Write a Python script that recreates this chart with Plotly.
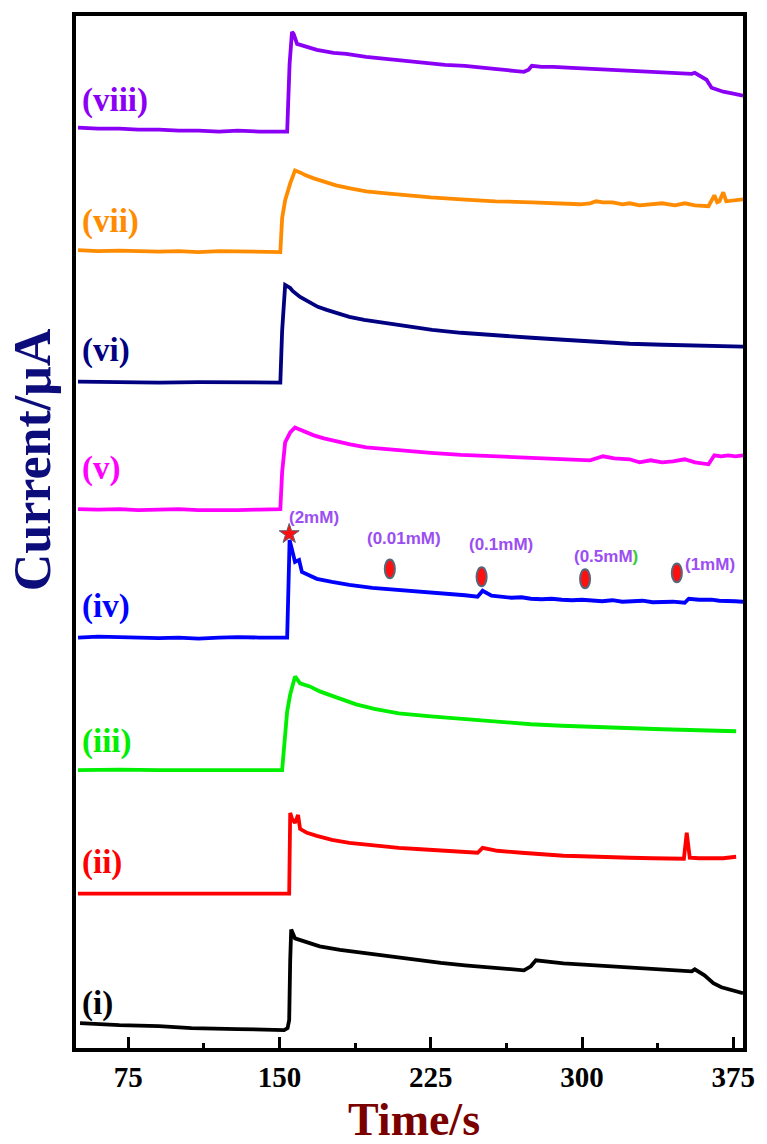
import plotly.graph_objects as go

# ---------------- data (time in s, current in arbitrary μA units, offset-stacked) ----------------
t_viii = [50.1, 60.0, 70.6, 80.0, 90.2, 100.0, 109.8, 120.0, 129.3, 140.0, 150.4, 153.8, 155.0, 156.2,
          157.0, 158.7, 163.6, 168.5, 176.8, 183.1, 192.9, 200.0, 207.6, 217.4, 225.0, 232.1, 241.9,
          248.0, 256.5, 266.0, 271.2, 273.5, 275.1, 280.0, 285.9, 295.0, 305.5, 315.0, 329.9, 340.0,
          354.4, 355.9, 361.7, 364.2, 367.0, 370.0, 375.0, 379.8]
i_viii = [92.4, 92.3, 92.3, 92.2, 92.2, 92.1, 92.1, 92.0, 92.1, 92.0, 92.0, 92.0, 98.8, 102.0,
          101.8, 100.8, 100.5, 100.2, 99.9, 99.8, 99.5, 99.35, 99.2, 99.0, 98.85, 98.7, 98.6,
          98.5, 98.3, 98.1, 98.0, 98.2, 98.6, 98.5, 98.5, 98.4, 98.3, 98.2, 98.0, 97.9,
          97.8, 97.9, 97.2, 96.4, 96.2, 96.0, 95.8, 95.6]

t_vii = [50.1, 60.0, 70.6, 80.0, 90.2, 100.0, 109.8, 120.0, 129.3, 140.0, 150.4, 151.3, 152.8, 155.3,
         157.7, 160.2, 163.0, 167.0, 172.0, 178.0, 185.0, 193.0, 203.0, 213.0, 225.0, 240.0, 257.0,
         275.0, 290.0, 299.1, 304.0, 307.0, 310.4, 315.2, 320.0, 323.6, 328.5, 334.0, 339.7, 346.1,
         350.9, 356.0, 362.7, 365.6, 367.0, 368.1, 370.0, 371.5, 375.4, 379.8]
i_vii = [80.1, 80.0, 80.05, 80.0, 79.95, 80.0, 79.9, 80.0, 79.95, 79.9, 79.9, 83.3, 85.1, 86.8,
         88.1, 87.9, 87.6, 87.3, 87.0, 86.6, 86.3, 86.0, 85.8, 85.6, 85.4, 85.2, 85.0,
         84.9, 84.8, 84.7, 84.8, 85.0, 84.9, 84.9, 84.7, 84.8, 84.6, 84.7, 84.8, 84.6,
         84.8, 84.6, 84.5, 85.6, 84.9, 85.0, 85.9, 85.0, 85.1, 85.2]

t_vi = [50.1, 70.6, 90.2, 109.8, 129.3, 150.4, 151.3, 152.8, 155.3, 156.5, 160.2, 165.0, 169.0, 173.4,
        178.0, 184.6, 192.0, 201.3, 212.0, 225.7, 240.0, 258.0, 275.0, 290.8, 307.0, 323.6, 340.0,
        355.9, 368.0, 379.8]
i_vi = [66.9, 66.85, 66.8, 66.85, 66.8, 66.8, 72.0, 76.6, 76.3, 76.0, 75.4, 74.8, 74.4, 74.1,
        73.8, 73.4, 73.1, 72.8, 72.45, 72.1, 71.8, 71.5, 71.3, 71.1, 70.9, 70.7, 70.6,
        70.5, 70.45, 70.4]

t_v = [50.1, 60.0, 70.6, 80.0, 90.2, 100.0, 109.8, 120.0, 129.3, 140.0, 150.4, 151.3, 152.8, 155.3,
       157.7, 160.0, 163.0, 167.0, 172.0, 178.0, 185.0, 193.0, 203.0, 213.0, 225.0, 240.0, 257.0,
       275.0, 290.0, 304.0, 310.4, 316.0, 323.6, 328.5, 334.0, 339.7, 345.0, 350.9, 356.0, 362.7,
       365.6, 369.0, 372.5, 376.0, 379.8]
i_v = [54.1, 54.05, 54.1, 54.0, 54.05, 54.1, 54.0, 54.05, 54.0, 54.05, 54.1, 57.8, 60.8, 61.8,
       62.3, 62.1, 61.8, 61.5, 61.2, 60.9, 60.6, 60.3, 60.1, 59.9, 59.75, 59.55, 59.4,
       59.25, 59.1, 59.0, 59.4, 59.2, 59.1, 58.8, 59.0, 58.8, 58.9, 59.1, 58.8, 58.6,
       59.5, 59.4, 59.5, 59.4, 59.5]

t_iv = [50.1, 60.0, 70.6, 80.0, 90.2, 100.0, 109.8, 120.0, 129.3, 140.0, 153.8, 154.5, 155.0, 157.7,
        159.7, 161.1, 165.0, 168.5, 176.0, 184.6, 196.0, 209.1, 220.0, 233.5, 242.0, 248.2, 250.7,
        255.1, 260.0, 265.0, 270.0, 274.6, 280.0, 285.0, 290.0, 295.0, 300.0, 307.0, 310.0, 315.0,
        320.0, 325.0, 330.0, 335.0, 339.7, 345.0, 350.9, 352.9, 358.0, 364.2, 368.0, 372.0, 376.0, 379.8]
i_iv = [41.2, 41.3, 41.25, 41.2, 41.15, 41.2, 41.1, 41.2, 41.25, 41.2, 41.2, 46.8, 51.0, 48.8,
        49.0, 47.8, 47.4, 47.1, 46.8, 46.5, 46.2, 46.0, 45.8, 45.6, 45.45, 45.3, 45.9,
        45.4, 45.3, 45.2, 45.25, 45.1, 45.05, 45.1, 45.0, 44.95, 45.0, 44.9, 44.85, 44.95,
        44.8, 44.85, 44.9, 44.75, 44.8, 44.8, 44.7, 45.1, 45.0, 45.0, 44.9, 44.9, 44.85, 44.8]

t_iii = [50.1, 70.6, 90.2, 109.8, 129.3, 151.3, 153.8, 155.3, 157.7, 160.2, 165.0, 170.0, 176.8, 182.0,
         188.0, 197.0, 209.1, 225.0, 241.9, 257.0, 274.6, 290.0, 307.0, 323.0, 339.7, 358.0, 376.4]
i_iii = [27.9, 27.95, 27.9, 27.9, 27.95, 27.9, 33.8, 35.5, 37.3, 36.6, 36.3, 35.8, 35.3, 34.9,
         34.5, 34.05, 33.6, 33.3, 33.0, 32.75, 32.5, 32.35, 32.2, 32.1, 32.0, 31.9, 31.8]

t_ii = [50.1, 70.6, 90.2, 109.8, 129.3, 154.8, 155.3, 156.2, 157.7, 159.2, 160.2, 163.6, 168.5, 176.0,
        184.6, 196.0, 209.1, 220.0, 233.5, 248.2, 250.7, 258.0, 270.0, 280.0, 290.8, 300.0, 310.0,
        323.6, 335.0, 345.0, 350.5, 351.9, 353.4, 358.0, 365.0, 370.0, 376.4]
i_ii = [15.5, 15.5, 15.5, 15.5, 15.5, 15.5, 23.6, 23.0, 22.6, 23.4, 22.0, 21.6, 21.3, 20.9,
        20.6, 20.35, 20.1, 19.95, 19.8, 19.6, 20.1, 19.8, 19.6, 19.45, 19.3, 19.25, 19.15,
        19.1, 19.05, 19.0, 19.0, 21.6, 19.1, 19.05, 19.1, 19.05, 19.2]

t_i = [51.1, 70.6, 90.2, 106.3, 129.3, 152.3, 154.0, 154.8, 155.3, 155.8, 157.7, 163.6, 169.9, 180.0,
       192.9, 205.0, 217.4, 230.0, 241.9, 256.0, 271.2, 274.6, 277.1, 290.8, 305.0, 323.6, 340.0,
       354.4, 355.9, 360.7, 365.1, 369.1, 379.8]
i_i = [2.5, 2.3, 2.2, 2.0, 1.9, 1.8, 2.0, 2.8, 8.8, 11.9, 11.0, 10.6, 10.2, 9.85,
       9.5, 9.15, 8.8, 8.55, 8.3, 8.05, 7.8, 8.2, 8.8, 8.5, 8.3, 8.1, 7.9,
       7.7, 7.9, 7.3, 6.5, 6.1, 5.5]

series_names = ["(i)", "(ii)", "(iii)", "(iv)", "(v)", "(vi)", "(vii)", "(viii)"]
series_t = [t_i, t_ii, t_iii, t_iv, t_v, t_vi, t_vii, t_viii]
series_i = [i_i, i_ii, i_iii, i_iv, i_v, i_vi, i_vii, i_viii]
series_colors = ["#000000", "#ff0000", "#00ee00", "#0000ff", "#ff00ff", "#000080", "#ff8c00", "#8a00f5"]
label_current = [4.5, 18.6, 30.8, 44.3, 58.2, 70.0, 83.0, 95.1]

# injection marks on trace (iv)
star_t = [154.8]
star_i = [51.6]
inj_t = [204.7, 250.2, 301.5, 347.0]
inj_i = [48.1, 47.3, 47.1, 47.7]
conc_labels = ["(2mM)", "(0.01mM)", "(0.1mM)", "(0.5mM<span style='color:#33cc33'>)</span>", "(1mM)"]
conc_t = [167.0, 211.5, 259.9, 311.8, 363.2]
conc_i = [53.3, 51.1, 50.5, 49.3, 48.5]

x_ticks = [75, 150, 225, 300, 375]
x_minor = [112.5, 187.5, 262.5, 337.5]

# ---------------- figure ----------------
fig = go.Figure()
serif = "Liberation Serif"

for name, tt, ii, col in zip(series_names, series_t, series_i, series_colors):
    fig.add_trace(go.Scatter(x=tt, y=ii, mode="lines", name=name,
                             line=dict(color=col, width=3.8), showlegend=False))

fig.add_trace(go.Scatter(x=star_t, y=star_i, mode="markers", showlegend=False,
                         marker=dict(symbol="star", size=15, color="#ff1010",
                                     line=dict(color="#5a6070", width=1))))

for tc, ic in zip(inj_t, inj_i):
    fig.add_shape(type="circle", xref="x", yref="y",
                  x0=tc - 2.5, x1=tc + 2.5, y0=ic - 0.95, y1=ic + 0.95,
                  fillcolor="#ff1010", line=dict(color="#56677a", width=2))

for txt, tc, ic in zip(conc_labels, conc_t, conc_i):
    fig.add_annotation(x=tc, y=ic, text=txt, showarrow=False, xanchor="center", yanchor="middle",
                       font=dict(family="Liberation Sans", size=17, color="#9b4ef2", weight="bold"))

for name, yc, col in zip(series_names, label_current, series_colors):
    fig.add_annotation(x=50.9, y=yc, text=name, showarrow=False, xanchor="left", yanchor="middle",
                       font=dict(family=serif, size=33, color=col, weight="bold"))

fig.add_annotation(xref="paper", yref="paper", x=-0.066, y=0.5705, text="Current/μA",
                   textangle=-90, showarrow=False, xanchor="center", yanchor="middle",
                   font=dict(family=serif, size=52, color="#0c0c7a", weight="bold"))
fig.add_annotation(xref="paper", yref="paper", x=0.506, y=-0.0695, text="Time/s",
                   showarrow=False, xanchor="center", yanchor="middle",
                   font=dict(family=serif, size=46, color="#7a0000", weight="bold"))

fig.update_layout(
    width=767, height=1144,
    margin=dict(l=76, r=15, t=12, b=96),
    paper_bgcolor="white", plot_bgcolor="white",
    xaxis=dict(range=[49.1, 379.8], tickmode="array", tickvals=x_ticks,
               ticks="inside", ticklen=11, tickwidth=3, tickcolor="black",
               minor=dict(tickmode="array", tickvals=x_minor, ticks="inside", ticklen=5,
                          tickwidth=3, tickcolor="black"),
               showline=True, linewidth=4, linecolor="black", mirror=True,
               showgrid=False, zeroline=False,
               tickfont=dict(family=serif, size=29, color="black", weight="bold")),
    yaxis=dict(range=[0, 103.6], showticklabels=False, ticks="",
               showline=True, linewidth=4, linecolor="black", mirror=True,
               showgrid=False, zeroline=False),
)

fig.write_html("out.html")
